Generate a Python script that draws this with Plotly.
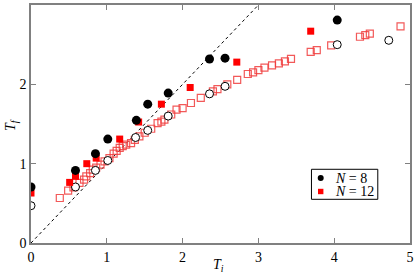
import plotly.graph_objects as go

# N = 8 (filled black circles)
n8_x = [0.0, 0.587, 0.85, 1.013, 1.39, 1.54, 1.81, 2.355, 2.56, 4.04]
n8_y = [0.706, 0.915, 1.126, 1.31, 1.546, 1.75, 1.89, 2.32, 2.33, 2.81]

# N = 12 (filled red squares)
n12_x = [0.0, 0.51, 0.587, 0.736, 0.86, 1.17, 1.42, 1.72, 2.10, 2.715, 3.69]
n12_y = [0.63, 0.764, 0.84, 1.0, 1.07, 1.31, 1.525, 1.75, 1.96, 2.28, 2.67]

# open black circles
oc_x = [0.0, 0.587, 0.85, 1.013, 1.38, 1.54, 1.81, 2.355, 2.56, 4.04, 4.72]
oc_y = [0.47, 0.706, 0.915, 1.04, 1.33, 1.42, 1.6, 1.88, 1.975, 2.50, 2.555]

# open red squares
os_x = [0.38, 0.49, 0.56, 0.64, 0.70, 0.73, 0.78, 0.815, 0.86, 0.917, 0.97,
        1.035, 1.09, 1.13, 1.17, 1.21, 1.256, 1.32, 1.37, 1.43, 1.50, 1.586,
        1.67, 1.72, 1.76, 1.85, 1.92, 2.0, 2.11, 2.24, 2.40, 2.46, 2.59, 2.72,
        2.86, 2.93, 3.0, 3.08, 3.18, 3.27, 3.35, 3.43, 3.69, 3.77, 3.96, 4.34,
        4.41, 4.47, 4.875]
os_y = [0.567, 0.66, 0.70, 0.757, 0.80, 0.84, 0.88, 0.924, 0.95, 0.987, 1.03,
        1.07, 1.126, 1.16, 1.20, 1.22, 1.24, 1.26, 1.30, 1.345, 1.39, 1.44,
        1.51, 1.53, 1.555, 1.62, 1.68, 1.70, 1.765, 1.83, 1.91, 1.94, 2.0, 2.055,
        2.13, 2.15, 2.18, 2.21, 2.24, 2.265, 2.29, 2.32, 2.41, 2.43, 2.49, 2.60,
        2.62, 2.64, 2.73]

diag_x = [0, 3]
diag_y = [0, 3]

legend_labels = ["<i>N</i> = 8", "<i>N</i> = 12"]
legend_colors = ["black", "#ff0000"]

FONT = "Liberation Serif, Times New Roman, serif"

fig = go.Figure()
fig.add_trace(go.Scatter(x=diag_x, y=diag_y, mode="lines",
                         line=dict(color="black", width=1, dash="dot"),
                         showlegend=False, hoverinfo="skip"))
fig.add_trace(go.Scatter(x=os_x, y=os_y, mode="markers", showlegend=False,
                         marker=dict(symbol="square-open", size=7,
                                     color="rgba(240,60,60,0.85)",
                                     line=dict(width=1.2))))
fig.add_trace(go.Scatter(x=oc_x, y=oc_y, mode="markers", showlegend=False,
                         marker=dict(symbol="circle", size=8, color="white",
                                     line=dict(color="black", width=1))))
fig.add_trace(go.Scatter(x=n12_x, y=n12_y, mode="markers", name=legend_labels[1],
                         showlegend=False,
                         marker=dict(symbol="square", size=7, color=legend_colors[1],
                                     line=dict(width=0))))
fig.add_trace(go.Scatter(x=n8_x, y=n8_y, mode="markers", name=legend_labels[0],
                         showlegend=False,
                         marker=dict(symbol="circle", size=9, color=legend_colors[0],
                                     line=dict(width=0))))

axis_common = dict(showline=True, linecolor="#808080", linewidth=1.5,
                   mirror="ticks", ticks="inside", ticklen=5, tickwidth=1,
                   tickcolor="#808080", showgrid=False, zeroline=False,
                   automargin=False,
                   tickfont=dict(family=FONT, size=14, color="black"))

fig.update_xaxes(range=[0, 5], dtick=1, **axis_common)
fig.update_yaxes(range=[0, 3], dtick=1, **axis_common)

# axis titles
fig.add_annotation(text="<i>T</i><sub><i>i</i></sub>", xref="paper", yref="paper",
                   x=0.496, y=-0.095, xanchor="center", yanchor="middle",
                   showarrow=False, font=dict(family=FONT, size=14, color="black"))
fig.add_annotation(text="<i>T</i><sub><i>f</i></sub>", xref="paper", yref="paper",
                   x=-0.05, y=0.496, xanchor="center", yanchor="middle",
                   textangle=-90, showarrow=False,
                   font=dict(family=FONT, size=14, color="black"))

# legend box
fig.add_shape(type="rect", xref="paper", yref="paper",
              x0=0.740, x1=0.915, y0=0.1836, y1=0.3097,
              line=dict(color="black", width=1), fillcolor="white", layer="above")
row_y = [0.273, 0.2164]
# legend symbols
fig.add_shape(type="circle", xref="paper", yref="paper", xsizemode="pixel",
              ysizemode="pixel", xanchor=0.7644, yanchor=row_y[0],
              x0=-3, x1=3, y0=-3, y1=3, fillcolor=legend_colors[0],
              line=dict(width=0), layer="above")
fig.add_shape(type="rect", xref="paper", yref="paper", xsizemode="pixel",
              ysizemode="pixel", xanchor=0.7644, yanchor=row_y[1],
              x0=-2.7, x1=2.7, y0=-2.7, y1=2.7, fillcolor=legend_colors[1],
              line=dict(width=0), layer="above")
for lab, yy in zip(legend_labels, row_y):
    fig.add_annotation(text=lab, xref="paper", yref="paper", x=0.797, y=yy,
                       xanchor="left", yanchor="middle", showarrow=False,
                       font=dict(family=FONT, size=14, color="black"))

fig.update_layout(
    width=415, height=277,
    margin=dict(l=31, r=5, t=5, b=34),
    plot_bgcolor="white", paper_bgcolor="white",
    font=dict(family=FONT, size=14, color="black"),
    showlegend=False,
)

fig.write_html("out.html",
               config={"displayModeBar": False},
               post_script="document.body.style.margin='0px';"
                           "document.body.style.overflow='hidden';")
